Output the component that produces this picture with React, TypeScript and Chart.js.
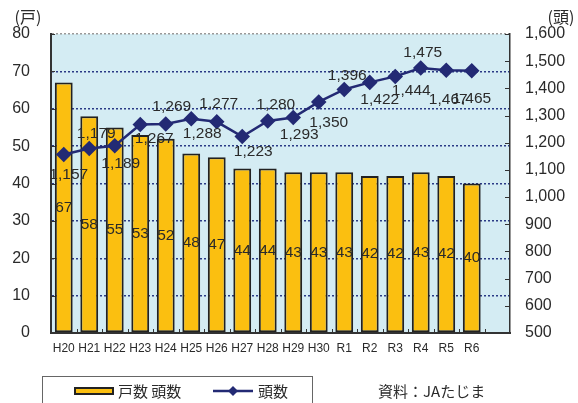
import React, { useEffect, useRef } from "react";
import { Chart, registerables } from "chart.js";

Chart.register(...registerables);

const categories = ["H20", "H21", "H22", "H23", "H24", "H25", "H26", "H27", "H28", "H29", "H30", "R1", "R2", "R3", "R4", "R5", "R6", ""];
const households = [67, 58, 55, 53, 52, 48, 47, 44, 44, 43, 43, 43, 42, 42, 43, 42, 40];
const heads = [1157, 1179, 1189, 1267, 1269, 1288, 1277, 1223, 1280, 1293, 1350, 1396, 1422, 1444, 1475, 1467, 1465];
const leftTitle = "(戸)";
const rightTitle = "(頭)";
const barLegend = "戸数 頭数";
const lineLegend = "頭数";
const sourceText = "資料：JAたじま";

// label placement offsets (style only)
const headLabelDx = [5, 7, 6, 14, 6, 11, 2, 11, 8, 6, 10, 3, 10, 16, 2, 2, 0];
const headLabelDy = [20, -15, 18, 14, -17, 15, -18, 15, -16, 17, 21, -14, 17, 14, -15, 30, 28];

const FONT = '"Liberation Sans", "Noto Sans CJK JP", sans-serif';
const JFONT = '"Noto Sans CJK JP", "Liberation Sans", sans-serif';
const NAVY = "#232a74";
const ORANGE = "#fbbf10";
const TEXT = "#2a2a2a";

const fmt = (v: number) => v.toLocaleString("en-US");

const decorPlugin = {
  id: "decor",
  beforeDraw(chart: any) {
    const { ctx, chartArea: a } = chart;
    ctx.save();
    ctx.fillStyle = "#d4ecf3";
    ctx.fillRect(a.left, a.top, a.right - a.left, a.bottom - a.top);
    ctx.restore();
  },
  afterDatasetsDraw(chart: any) {
    const { ctx } = chart;
    ctx.save();
    ctx.font = `15.5px ${FONT}`;
    ctx.fillStyle = TEXT;
    ctx.textAlign = "center";
    ctx.textBaseline = "middle";
    const barMeta = chart.getDatasetMeta(0);
    barMeta.data.forEach((el: any, i: number) => {
      const v = households[i];
      if (v == null) return;
      const y = (el.y + el.base) / 2;
      ctx.fillText(String(v), el.x, y);
    });
    const lineMeta = chart.getDatasetMeta(1);
    lineMeta.data.forEach((el: any, i: number) => {
      const v = heads[i];
      if (v == null) return;
      ctx.fillText(fmt(v), el.x + headLabelDx[i], el.y + headLabelDy[i]);
    });
    ctx.restore();
  },
  afterDraw(chart: any) {
    const { ctx, chartArea: a, scales } = chart;
    ctx.save();
    // inward tick marks
    ctx.strokeStyle = "#333";
    ctx.lineWidth = 1;
    scales.y.ticks.forEach((t: any) => {
      const y = Math.round(scales.y.getPixelForValue(t.value)) + 0.5;
      ctx.beginPath();
      ctx.moveTo(a.left, y);
      ctx.lineTo(a.left + 4, y);
      ctx.stroke();
    });
    scales.y1.ticks.forEach((t: any) => {
      const y = Math.round(scales.y1.getPixelForValue(t.value)) + 0.5;
      ctx.beginPath();
      ctx.moveTo(a.right - 5, y);
      ctx.lineTo(a.right, y);
      ctx.stroke();
    });
    const step = (a.right - a.left) / categories.length;
    for (let i = 1; i < categories.length; i++) {
      const x = Math.round(a.left + step * i) + 0.5;
      ctx.beginPath();
      ctx.moveTo(x, a.bottom);
      ctx.lineTo(x, a.bottom - 4);
      ctx.stroke();
    }
    // axis titles
    ctx.fillStyle = TEXT;
    ctx.font = `16px ${JFONT}`;
    ctx.textAlign = "center";
    ctx.textBaseline = "middle";
    ctx.fillText(leftTitle, 28, 17);
    ctx.fillText(rightTitle, 561, 17);
    // legend box
    ctx.strokeStyle = "#666";
    ctx.lineWidth = 1;
    ctx.strokeRect(42.5, 376.5, 270, 40);
    ctx.fillStyle = ORANGE;
    ctx.fillRect(75, 388, 38, 6);
    ctx.strokeStyle = "#222";
    ctx.lineWidth = 2;
    ctx.strokeRect(75, 388, 38, 6);
    ctx.fillStyle = TEXT;
    ctx.font = `15px ${JFONT}`;
    ctx.textAlign = "left";
    ctx.fillText(barLegend, 118, 391);
    ctx.strokeStyle = NAVY;
    ctx.lineWidth = 2.5;
    ctx.beginPath();
    ctx.moveTo(213, 391);
    ctx.lineTo(253, 391);
    ctx.stroke();
    ctx.fillStyle = NAVY;
    ctx.beginPath();
    ctx.moveTo(233, 386);
    ctx.lineTo(238, 391);
    ctx.lineTo(233, 396);
    ctx.lineTo(228, 391);
    ctx.closePath();
    ctx.fill();
    ctx.fillStyle = TEXT;
    ctx.fillText(lineLegend, 258, 391);
    ctx.fillText(sourceText, 378, 391);
    ctx.restore();
  },
};

export default function App() {
  const ref = useRef<HTMLCanvasElement | null>(null);
  useEffect(() => {
    document.body.style.margin = "0";
    const canvas = ref.current!;
    const chart = new Chart(canvas, {
      type: "bar",
      data: {
        labels: categories,
        datasets: [
          {
            type: "bar",
            label: barLegend,
            data: households,
            yAxisID: "y",
            backgroundColor: ORANGE,
            borderColor: "#222",
            borderWidth: 2,
            borderSkipped: false,
            barPercentage: 0.7,
            categoryPercentage: 1,
            order: 2,
          },
          {
            type: "line",
            label: lineLegend,
            data: heads,
            yAxisID: "y1",
            borderColor: NAVY,
            backgroundColor: NAVY,
            borderWidth: 2.5,
            pointStyle: "rectRot",
            pointRadius: 6,
            pointBackgroundColor: NAVY,
            pointBorderColor: NAVY,
            tension: 0,
            order: 1,
          } as any,
        ],
      },
      options: {
        responsive: false,
        animation: false,
        devicePixelRatio: 1,
        layout: { padding: { top: 34, left: 0, right: 0, bottom: 0 } },
        plugins: { legend: { display: false }, tooltip: { enabled: false } },
        scales: {
          x: {
            grid: { display: false, drawTicks: false },
            border: { display: true, color: "#333", width: 2 },
            ticks: { color: TEXT, font: { size: 12, family: FONT }, padding: 8, maxRotation: 0, autoSkip: false },
            afterFit: (s: any) => { s.height = 70; },
          },
          y: {
            position: "left",
            min: 0,
            max: 80,
            ticks: { stepSize: 10, color: TEXT, font: { size: 16, family: FONT }, padding: 21 },
            grid: {
              drawTicks: false,
              lineWidth: 1.5,
              color: (c: any) => (c.tick && c.tick.value === 80 ? "#9a9a9a" : "#2a3a86"),
            },
            border: { display: true, color: "#333", width: 2, dash: [2, 2] },
            afterFit: (s: any) => { s.width = 51; },
          },
          y1: {
            position: "right",
            min: 500,
            max: 1600,
            ticks: { stepSize: 100, color: TEXT, font: { size: 16, family: FONT }, padding: 15 },
            grid: { drawOnChartArea: false, drawTicks: false },
            border: { display: true, color: "#333", width: 1.5 },
            afterFit: (s: any) => { s.width = 68; },
          },
        },
      },
      plugins: [decorPlugin],
    });
    return () => chart.destroy();
  }, []);
  return <canvas ref={ref} width={578} height={403} style={{ display: "block" }} />;
}
